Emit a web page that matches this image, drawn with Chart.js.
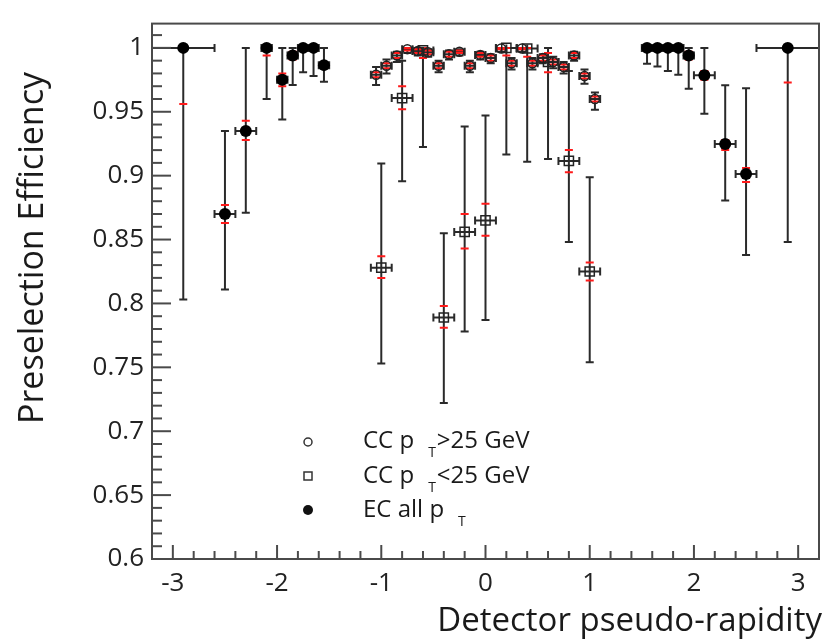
<!DOCTYPE html>
<html>
<head>
<meta charset="utf-8">
<script src="https://cdn.jsdelivr.net/npm/chart.js@4.4.1/dist/chart.umd.min.js"></script>
<style>
  html, body { margin: 0; padding: 0; background: #fff; }
</style>
</head>
<body>
<canvas id="eff-chart" width="827" height="639"></canvas>
<script>
// EC, all pT (filled circles)
const ecEta    = [-2.9, -2.5, -2.3, -2.1, -1.95, -1.85, -1.75, -1.65, -1.55, 1.55, 1.65, 1.75, 1.85, 1.95, 2.1, 2.3, 2.5, 2.9];
const ecEtaErr = [0.3, 0.1, 0.1, 0.05, 0.05, 0.05, 0.05, 0.05, 0.05, 0.05, 0.05, 0.05, 0.05, 0.05, 0.1, 0.1, 0.1, 0.3];
const ecEff    = [1.0, 0.870, 0.935, 1.0, 0.975, 0.994, 1.0, 1.0, 0.9865, 1.0, 1.0, 1.0, 1.0, 0.994, 0.9786, 0.9248, 0.9013, 1.0];
const ecHi     = [1.0, 0.935, 1.0, 1.0, 1.0, 1.0, 1.0, 1.0, 1.0, 1.0, 1.0, 1.0, 1.0, 1.0, 1.0, 0.9707, 0.9684, 1.0];
const ecLo     = [0.803, 0.811, 0.871, 0.960, 0.944, 0.971, 0.981, 0.978, 0.9735, 0.9875, 0.9855, 0.982, 0.979, 0.968, 0.9485, 0.8806, 0.838, 0.848];
const ecRedHi  = [1.0, 0.877, 0.943, 1.0, 0.980, 0.997, 1.0, 1.0, 0.989, 1.0, 1.0, 1.0, 1.0, 0.997, 0.982, 0.928, 0.906, 1.0];
const ecRedLo  = [0.956, 0.863, 0.928, 0.994, 0.970, 0.991, 0.998, 0.998, 0.985, 0.998, 0.998, 0.998, 0.998, 0.991, 0.975, 0.920, 0.895, 0.973];

// CC, pT > 25 GeV (open circles)
const ccHiEta    = [-1.05, -0.95, -0.85, -0.75, -0.65, -0.55, -0.45, -0.35, -0.25, -0.15, -0.05, 0.05, 0.15, 0.25, 0.35, 0.45, 0.55, 0.65, 0.75, 0.85, 0.95, 1.05];
const ccHiEtaErr = [0.05, 0.05, 0.05, 0.05, 0.05, 0.05, 0.05, 0.05, 0.05, 0.05, 0.05, 0.05, 0.05, 0.05, 0.05, 0.05, 0.05, 0.05, 0.05, 0.05, 0.05, 0.05];
const ccHiEff    = [0.979, 0.986, 0.994, 0.999, 0.9975, 0.9965, 0.986, 0.995, 0.997, 0.986, 0.9945, 0.992, 0.9995, 0.988, 0.9995, 0.988, 0.992, 0.989, 0.985, 0.994, 0.978, 0.960];
const ccHiHi     = [0.985, 0.991, 0.997, 1.0, 1.0, 0.999, 0.990, 0.998, 0.999, 0.990, 0.997, 0.995, 1.0, 0.992, 1.0, 0.992, 0.995, 0.993, 0.989, 0.997, 0.983, 0.965];
const ccHiLo     = [0.971, 0.980, 0.989, 0.996, 0.994, 0.993, 0.981, 0.991, 0.994, 0.981, 0.991, 0.988, 0.997, 0.983, 0.997, 0.983, 0.988, 0.984, 0.980, 0.990, 0.972, 0.9515];
const ccHiRedHi  = [0.981, 0.988, 0.996, 1.0, 0.999, 0.998, 0.988, 0.997, 0.998, 0.988, 0.996, 0.994, 1.0, 0.990, 1.0, 0.990, 0.994, 0.991, 0.987, 0.996, 0.980, 0.962];
const ccHiRedLo  = [0.977, 0.984, 0.992, 0.998, 0.996, 0.995, 0.984, 0.993, 0.996, 0.984, 0.993, 0.990, 0.999, 0.986, 0.999, 0.986, 0.990, 0.987, 0.983, 0.992, 0.976, 0.958];

// CC, pT < 25 GeV (open squares)
const ccLoEta    = [-1.0, -0.8, -0.6, -0.4, -0.2, 0.0, 0.2, 0.4, 0.6, 0.8, 1.0];
const ccLoEtaErr = [0.1, 0.1, 0.1, 0.1, 0.1, 0.1, 0.1, 0.1, 0.1, 0.1, 0.1];
const ccLoEff    = [0.828, 0.9607, 0.998, 0.789, 0.856, 0.865, 1.0, 0.9995, 0.989, 0.9115, 0.825];
const ccLoHi     = [0.9095, 0.990, 1.0, 0.855, 0.9385, 0.947, 1.0, 1.0, 1.0, 0.982, 0.8987];
const ccLoLo     = [0.753, 0.8957, 0.9225, 0.722, 0.778, 0.787, 0.9166, 0.9108, 0.913, 0.848, 0.754];
const ccLoRedHi  = [0.837, 0.970, 1.0, 0.798, 0.870, 0.878, 1.0, 1.0, 0.996, 0.920, 0.832];
const ccLoRedLo  = [0.820, 0.952, 0.992, 0.781, 0.843, 0.853, 0.994, 0.993, 0.981, 0.9026, 0.818];

const xTickValues = [-3, -2, -1, 0, 1, 2, 3];
const yTickValues = [0.6, 0.65, 0.7, 0.75, 0.8, 0.85, 0.9, 0.95, 1.0];
const xTitle = 'Detector pseudo-rapidity';
const yTitle = 'Preselection Efficiency';
const legendRows = [
  { main: 'CC p', sub: 'T', rest: '>25 GeV', marker: 'circle' },
  { main: 'CC p', sub: 'T', rest: '<25 GeV', marker: 'square' },
  { main: 'EC all p', sub: 'T', rest: '', marker: 'dot' }
];

const FONT = "'Open Sans', 'DejaVu Sans', sans-serif";
Chart.defaults.font.family = FONT;

const groups = [
  { eta: ecEta, ex: ecEtaErr, eff: ecEff, hi: ecHi, lo: ecLo, rHi: ecRedHi, rLo: ecRedLo },
  { eta: ccLoEta, ex: ccLoEtaErr, eff: ccLoEff, hi: ccLoHi, lo: ccLoLo, rHi: ccLoRedHi, rLo: ccLoRedLo },
  { eta: ccHiEta, ex: ccHiEtaErr, eff: ccHiEff, hi: ccHiHi, lo: ccHiLo, rHi: ccHiRedHi, rLo: ccHiRedLo }
];

function toPoints(xs, ys) {
  return xs.map((x, i) => ({ x: x, y: ys[i] }));
}

function line(ctx, x1, y1, x2, y2) {
  ctx.beginPath();
  ctx.moveTo(x1, y1);
  ctx.lineTo(x2, y2);
  ctx.stroke();
}

// black error bars + red inner caps, under the markers
const errorBars = {
  id: 'errorBars',
  beforeDatasetsDraw(chart) {
    const ctx = chart.ctx;
    const xs = chart.scales.x, ys = chart.scales.y;
    const a = chart.chartArea;
    ctx.save();
    ctx.beginPath();
    ctx.rect(a.left, a.top, a.right - a.left, a.bottom - a.top);
    ctx.clip();
    groups.forEach(g => {
      g.eta.forEach((eta, i) => {
        const px = xs.getPixelForValue(eta);
        const py = ys.getPixelForValue(g.eff[i]);
        const yh = ys.getPixelForValue(g.hi[i]);
        const yl = ys.getPixelForValue(g.lo[i]);
        const xl = xs.getPixelForValue(eta - g.ex[i]);
        const xr = xs.getPixelForValue(eta + g.ex[i]);
        ctx.strokeStyle = '#2a2a2a';
        ctx.lineWidth = 2;
        line(ctx, px, yh, px, yl);
        line(ctx, px - 4, yh, px + 4, yh);
        line(ctx, px - 4, yl, px + 4, yl);
        line(ctx, xl, py, xr, py);
        line(ctx, xl, py - 4, xl, py + 4);
        line(ctx, xr, py - 4, xr, py + 4);
        ctx.strokeStyle = '#ff1a1a';
        ctx.lineWidth = 2;
        const rh = ys.getPixelForValue(g.rHi[i]);
        const rl = ys.getPixelForValue(g.rLo[i]);
        line(ctx, px - 4, rh, px + 4, rh);
        line(ctx, px - 4, rl, px + 4, rl);
      });
    });
    ctx.restore();
  }
};

// frame, inward ticks, axis titles and legend
const decorations = {
  id: 'decorations',
  afterDraw(chart) {
    const ctx = chart.ctx;
    const xs = chart.scales.x, ys = chart.scales.y;
    const a = chart.chartArea;
    ctx.save();
    ctx.strokeStyle = '#4a4a4a';
    ctx.lineWidth = 2;
    ctx.strokeRect(a.left, a.top, a.right - a.left, a.bottom - a.top);

    for (let i = -15; i <= 15; i++) {
      const px = xs.getPixelForValue(i / 5);
      const len = i % 5 === 0 ? 14 : 8;
      line(ctx, px, a.bottom, px, a.bottom - len);
    }
    for (let i = 61; i <= 101; i++) {
      const py = ys.getPixelForValue(i / 100);
      const len = i % 5 === 0 ? 19 : 10;
      line(ctx, a.left, py, a.left + len, py);
    }

    ctx.fillStyle = '#1a1a1a';
    ctx.font = '33px ' + FONT;
    ctx.textBaseline = 'alphabetic';
    ctx.textAlign = 'right';
    ctx.fillText(xTitle, 822, 631);

    ctx.save();
    ctx.translate(43, 248);
    ctx.rotate(-Math.PI / 2);
    ctx.textAlign = 'center';
    ctx.font = '34px ' + FONT;
    ctx.fillText(yTitle, 0, 0);
    ctx.restore();

    // legend
    const mx = 308, tx = 363;
    const baselines = [448, 483, 517];
    const markerY = [442, 476, 510];
    legendRows.forEach((row, i) => {
      const my = markerY[i];
      ctx.strokeStyle = '#333';
      ctx.fillStyle = '#111';
      ctx.lineWidth = 1.5;
      if (row.marker === 'circle') {
        ctx.beginPath(); ctx.arc(mx, my, 4, 0, Math.PI * 2); ctx.stroke();
      } else if (row.marker === 'square') {
        ctx.strokeRect(mx - 4, my - 4, 8, 8);
      } else {
        ctx.beginPath(); ctx.arc(mx, my, 5, 0, Math.PI * 2); ctx.fill();
      }
      ctx.fillStyle = '#1a1a1a';
      ctx.textAlign = 'left';
      ctx.font = '24px ' + FONT;
      ctx.fillText(row.main, tx, baselines[i]);
      let x = tx + ctx.measureText(row.main).width + 14;
      ctx.font = '14px ' + FONT;
      ctx.fillText(row.sub, x, baselines[i] + 9);
      x += ctx.measureText(row.sub).width + 1;
      ctx.font = '24px ' + FONT;
      ctx.fillText(row.rest, x, baselines[i]);
    });
    ctx.restore();
  }
};

const ctx = document.getElementById('eff-chart').getContext('2d');

const effChart = new Chart(ctx, {
  type: 'scatter',
  data: {
    datasets: [
      {
        label: 'EC all pT',
        data: toPoints(ecEta, ecEff),
        pointStyle: 'circle',
        pointRadius: 6,
        backgroundColor: '#000',
        borderColor: '#000',
        borderWidth: 0
      },
      {
        label: 'CC pT<25 GeV',
        data: toPoints(ccLoEta, ccLoEff),
        pointStyle: 'rect',
        pointRadius: 6.5,
        backgroundColor: 'rgba(0,0,0,0)',
        borderColor: '#222',
        borderWidth: 1.5
      },
      {
        label: 'CC pT>25 GeV',
        data: toPoints(ccHiEta, ccHiEff),
        pointStyle: 'circle',
        pointRadius: 4.5,
        backgroundColor: 'rgba(0,0,0,0)',
        borderColor: '#222',
        borderWidth: 1.5
      }
    ]
  },
  options: {
    responsive: false,
    animation: false,
    events: [],
    layout: { padding: { top: 13, right: 6, left: 0, bottom: 0 } },
    plugins: {
      legend: { display: false },
      tooltip: { enabled: false }
    },
    scales: {
      x: {
        type: 'linear',
        min: -3.2,
        max: 3.2,
        grid: { display: false, drawTicks: false },
        border: { display: false },
        afterBuildTicks: s => { s.ticks = xTickValues.map(v => ({ value: v })); },
        afterFit: s => { s.height = 80; },
        ticks: {
          color: '#222',
          font: { size: 26 },
          padding: 9,
          maxRotation: 0,
          callback: v => String(v)
        }
      },
      y: {
        type: 'linear',
        min: 0.6,
        max: 1.019,
        grid: { display: false, drawTicks: false },
        border: { display: false },
        afterBuildTicks: s => { s.ticks = yTickValues.map(v => ({ value: v })); },
        afterFit: s => { s.width = 152; },
        ticks: {
          color: '#222',
          font: { size: 26 },
          padding: 8,
          callback: v => String(Number(v.toFixed(2)))
        }
      }
    }
  },
  plugins: [errorBars, decorations]
});
</script>
</body>
</html>
